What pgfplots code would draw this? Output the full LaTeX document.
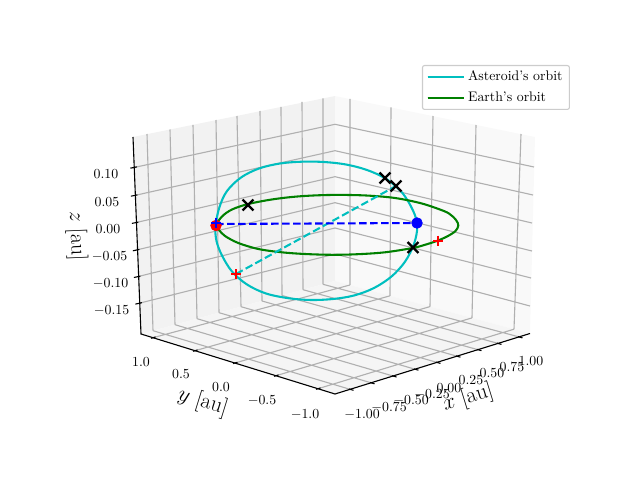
\documentclass[border=0pt]{standalone}
\usepackage{fix-cm}
\usepackage{pgfplots}
\pgfplotsset{compat=1.18}
\definecolor{orbc}{rgb}{0,0.75,0.75}
\definecolor{orbg}{rgb}{0,0.5,0}
\definecolor{gridc}{HTML}{B0B0B0}
\definecolor{legc}{HTML}{CCCCCC}
\begin{document}
\begin{tikzpicture}
\begin{axis}[
  scale only axis, width=6.4in, height=4.8in,
  xmin=0, xmax=640, ymin=0, ymax=480, y dir=reverse,
  hide axis, clip=false, unbounded coords=jump,
  legend cell align=left,
  legend image code/.code={\draw[#1,sharp plot] plot coordinates {(0cm,0cm) (0.74cm,0cm)};\path (0cm,0cm) -- (0.93cm,0cm);},
  legend style={at={(0.8906,0.8646)}, anchor=north east, draw=legc, line width=0.8pt,
    fill=white, rounded corners=1.5pt, font=\fontsize{10}{12}\selectfont, row sep=2.6pt},
]
% invisible frame to fix the page size
\path (axis cs:0,0) rectangle (axis cs:640,480);
% panes
\addplot[forget plot, draw=none, fill={rgb,1:red,0.95;green,0.95;blue,0.95}] coordinates {(133,137) (335,96) (335,281) (141,334)} -- cycle;
\addplot[forget plot, draw=none, fill={rgb,1:red,0.975;green,0.975;blue,0.975}] coordinates {(335,96) (535,137) (530,333.5) (335,281)} -- cycle;
\addplot[forget plot, draw=none, fill={rgb,1:red,0.9625;green,0.9625;blue,0.9625}] coordinates {(141,334) (335,281) (530,333.5) (335,394)} -- cycle;
% grid: verticals of the left wall
\addplot[forget plot, gridc, line width=0.8pt] coordinates {
 (147,134) (153,330.7) (nan,nan) (170,129.5) (175,324.7) (nan,nan)
 (193,124.8) (197,318.7) (nan,nan) (216,120) (219,312.7) (nan,nan)
 (237,116) (241,306.7) (nan,nan) (260,111) (262,301) (nan,nan)
 (281,107) (282,295.5) (nan,nan) (302,102) (303,289.7) (nan,nan)
 (323,98.5) (323,284.3)};
% grid: verticals of the right wall
\addplot[forget plot, gridc, line width=0.8pt] coordinates {
 (350,99) (350,285) (nan,nan) (391,107.5) (390,295.8) (nan,nan)
 (433,116) (430,306.6) (nan,nan) (476,125) (472,317.9) (nan,nan)
 (521,134) (514,329.2)};
% grid: z lines
\addplot[forget plot, gridc, line width=0.8pt] coordinates {
 (134,167.5) (335,124.3) (534,167) (nan,nan)
 (134.5,195.5) (335,150.7) (533,195) (nan,nan)
 (135.5,222.7) (335,176.7) (532,223) (nan,nan)
 (136.5,250) (335,202.7) (532,251) (nan,nan)
 (137.5,276.7) (335,228) (531,278) (nan,nan)
 (139,303.3) (335,254) (530,306)};
% grid: floor
\addplot[forget plot, gridc, line width=0.8pt] coordinates {
 (350,389.3) (153,330.7) (nan,nan) (371,382.8) (175,324.7) (nan,nan)
 (393,376) (197,318.7) (nan,nan) (415,369.2) (219,312.7) (nan,nan)
 (437,362.4) (241,306.7) (nan,nan) (457,356.2) (262,301) (nan,nan)
 (478,349.7) (282,295.5) (nan,nan) (498,343.4) (303,289.7) (nan,nan)
 (519,336.9) (323,284.3) (nan,nan)
 (153,337.7) (350,285) (nan,nan) (195,350.7) (390,295.8) (nan,nan)
 (235,363) (430,306.6) (nan,nan) (276,375.7) (472,317.9) (nan,nan)
 (318,388.7) (514,329.2)};
% axis lines
\addplot[forget plot, black, line width=0.8pt] coordinates {(133,137) (141,334) (335,394) (530,333.5)};
% ticks
\addplot[forget plot, black, line width=0.8pt] coordinates {
 (130.3,168.2) (136.8,166.9) (nan,nan) (130.9,196.2) (137.4,194.9) (nan,nan)
 (131.9,223.4) (138.4,222.1) (nan,nan) (132.9,250.8) (139.4,249.4) (nan,nan)
 (133.9,277.5) (140.4,276.1) (nan,nan) (135.4,304.1) (141.9,302.7) (nan,nan)
 (151,338.3) (155.5,337) (nan,nan) (193,351.3) (197.5,350) (nan,nan)
 (233,363.6) (237.5,362.3) (nan,nan) (274,376.3) (278.5,375) (nan,nan)
 (316,389.3) (320.5,388) (nan,nan)
 (349,389) (353.5,390.3) (nan,nan) (370,382.5) (374.5,383.8) (nan,nan)
 (392,375.7) (396.5,377) (nan,nan) (414,368.9) (418.5,370.2) (nan,nan)
 (436,362.1) (440.5,363.4) (nan,nan) (456,355.9) (460.5,357.2) (nan,nan)
 (477,349.4) (481.5,350.7) (nan,nan) (497,343.1) (501.5,344.4) (nan,nan)
 (518,336.6) (522.5,337.9)};
% tick labels
\node at (axis cs:106,174) {$0.10$};
\node at (axis cs:107,202) {$0.05$};
\node at (axis cs:108,229) {$0.00$};
\node at (axis cs:109.5,257) {$-0.05$};
\node at (axis cs:110.5,284) {$-0.10$};
\node at (axis cs:111.5,311) {$-0.15$};
\node at (axis cs:141,362) {$1.0$};
\node at (axis cs:181,374) {$0.5$};
\node at (axis cs:221,387) {$0.0$};
\node at (axis cs:262,401) {$-0.5$};
\node at (axis cs:305,415) {$-1.0$};
\node at (axis cs:362,415) {$-1.00$};
\node at (axis cs:389,408) {$-0.75$};
\node at (axis cs:411,401) {$-0.50$};
\node at (axis cs:432,395) {$-0.25$};
\node at (axis cs:449,388) {$0.00$};
\node at (axis cs:471,380) {$0.25$};
\node at (axis cs:492,373) {$0.50$};
\node at (axis cs:512,367) {$0.75$};
\node at (axis cs:531,361) {$1.00$};
% axis labels
\node[rotate=17.2, font=\fontsize{16}{18}\selectfont] at (axis cs:468,398) {$x$ [au]};
\node[rotate=-17.2, font=\fontsize{16}{18}\selectfont] at (axis cs:203,402) {$y$ [au]};
\node[rotate=-87.7, font=\fontsize{16}{18}\selectfont] at (axis cs:76.5,236) {$z$ [au]};
% orbits
\addplot[orbc, line width=1.5pt, smooth cycle, tension=0.55] coordinates {
 (215.5,226) (219.5,207) (227,191) (241,177.5) (259,168.5) (280,163.5) (302,161.7) (324,162)
 (346,164.5) (367,170) (386,178.8) (402,192.5) (413,210.5) (417.3,226) (414,244) (405,261.7)
 (391.5,276.5) (374,288) (354,295.5) (333,299) (311,300) (289,298.3) (266,293.5) (247,284.5)
 (232,271.5) (222,255.5) (216.5,241)};
\addlegendentry{Asteroid's orbit}
\addplot[orbg, line width=1.5pt, smooth cycle, tension=0.55] coordinates {
 (216,225.5) (222,216.5) (232,209.5) (248.3,204) (271.7,199.5) (295,196.7) (318,195.3) (341,194.9)
 (368,195.6) (395,198) (420,203) (438,208.8) (449,213.5) (456,220) (458.3,225.5) (455.5,231) (448,236)
 (438,240.5) (426,244.5) (412.7,248) (385,252.3) (358,254.2) (332,254.8) (305,254) (281.7,252.3)
 (258.3,249) (238.3,243) (225,236) (219,230)};
\addlegendentry{Earth's orbit}
% dashed lines
\addplot[forget plot, orbc, line width=1.5pt, dash pattern=on 5.55pt off 2.4pt] coordinates {(236,274) (396,186)};
\addplot[forget plot, blue, line width=1.5pt, dash pattern=on 5.55pt off 2.4pt] coordinates {(216,224) (417,223)};
% markers
\addplot[forget plot, only marks, mark=*, mark size=3.9pt, red, mark options={draw=red, fill=red}] coordinates {(216,225.5)};
\addplot[forget plot, only marks, mark=*, mark size=3.9pt, blue, mark options={draw=blue, fill=blue}] coordinates {(417,223)};
\addplot[forget plot, only marks, mark=+, mark size=3.6pt, red, mark options={line width=1.7pt}] coordinates {(236,274) (438.3,240.7)};
\addplot[forget plot, only marks, mark=+, mark size=3.6pt, blue, mark options={line width=1.7pt}] coordinates {(216,223)};
\addplot[forget plot, only marks, mark=x, mark size=5.6pt, black, mark options={line width=1.7pt}] coordinates {(248,205) (385,178) (396,186) (413,247.5)};
\end{axis}
\end{tikzpicture}
\end{document}
